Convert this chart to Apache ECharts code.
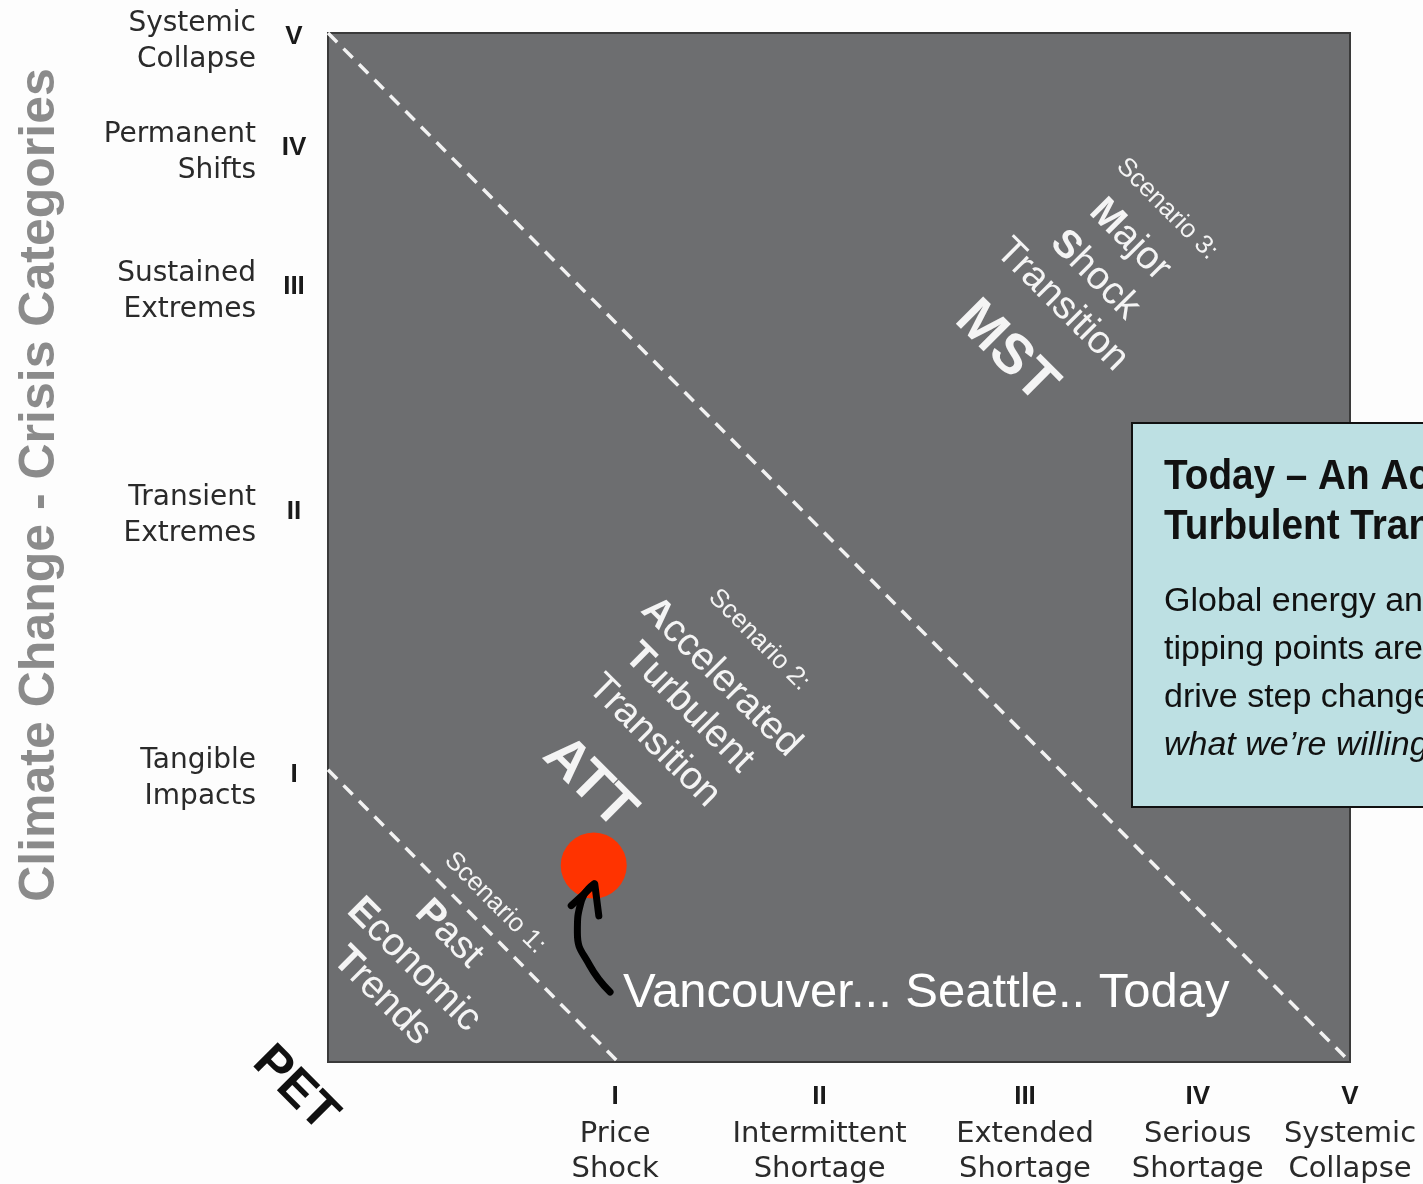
<!DOCTYPE html>
<html>
<head>
<meta charset="utf-8">
<title>Climate Change - Crisis Categories vs PET</title>
<script src="https://cdn.jsdelivr.net/npm/echarts@6/dist/echarts.min.js"></script>
<style>
  html, body { margin: 0; padding: 0; background: #fdfdfd; }
  #chart { width: 1423px; height: 1184px; }
</style>
</head>
<body>
<div id="chart"></div>
<script>
// tick positions, 0..100 along each side of the box
var petTicks = [28.1, 48.1, 68.2, 85.1, 100];
var petRoman = ['I', 'II', 'III', 'IV', 'V'];
var petNames = ['Price\nShock', 'Intermittent\nShortage', 'Extended\nShortage', 'Serious\nShortage', 'Systemic\nCollapse'];

var climateTicks = [27.9, 53.5, 75.3, 88.8, 99.6];
var climateRoman = ['I', 'II', 'III', 'IV', 'V'];
var climateNames = ['Tangible\nImpacts', 'Transient\nExtremes', 'Sustained\nExtremes', 'Permanent\nShifts', 'Systemic\nCollapse'];

// scenario borders (dashed)
var mainDiagonal = [[0, 100], [100, 0]];
var pastDiagonal = [[0, 28.4], [28.4, 0]];

// today + the arrow pointing at it
var todayPoint = [[26.0, 19.1]];
var arrowCurve = [[27.6, 6.8], [25.6, 9.4], [24.4, 12.6], [24.8, 15.7], [26.0, 17.3]];
var arrowHead = [[23.8, 15.2], [26.1, 17.3], [26.5, 14.2]];

var scenario1 = ['Scenario 1:', 'Past', 'Economic', 'Trends'];
var scenario2 = ['Scenario 2:', 'Accelerated', 'Turbulent', 'Transition', 'ATT'];
var scenario3 = ['Scenario 3:', 'Major', 'Shock', 'Transition', 'MST'];
var todayNote = 'Vancouver... Seattle.. Today';
var boxTitle = ['Today \u2013 An Accelerated', 'Turbulent Transition'];
var boxBody = ['Global energy and climate', 'tipping points are converging to', 'drive step changes beyond'];
var boxLast = 'what we\u2019re willing to accept';

function pick(list, ticks, v) {
  var best = 0;
  for (var i = 1; i < ticks.length; i++) {
    if (Math.abs(ticks[i] - v) < Math.abs(ticks[best] - v)) best = i;
  }
  return list[best];
}

var FONT = 'Liberation Sans, Arial, sans-serif';

// one rotated line of the scenario labels
function tilt(x, y, str, size, boldHead, allBold) {
  var base = { fontSize: size, fontFamily: FONT, fill: '#f4f4f4', fontWeight: allBold ? 'bold' : 'normal' };
  var text = str, rich;
  if (boldHead) {
    text = '{h|' + str.charAt(0) + '}{t|' + str.slice(1) + '}';
    rich = { h: Object.assign({}, base, { fontWeight: 'bold' }), t: base };
  }
  return {
    type: 'text', x: x, y: y, rotation: -Math.PI / 4, z: 20,
    style: Object.assign({ text: text, rich: rich, align: 'center', verticalAlign: 'middle' }, base)
  };
}

var graphics = [];
// scenario 3
var s3pos = [[1167, 209], [1130, 240], [1095, 275], [1062, 305], [1006, 352]];
scenario3.forEach(function (s, i) {
  var size = i === 0 ? 26 : (i === 4 ? 56 : 39);
  graphics.push(tilt(s3pos[i][0], s3pos[i][1], s, size, i === 1 || i === 2, i === 4));
});
// scenario 2
var s2pos = [[759, 640], [721, 677], [689, 708], [654, 741], [589, 783]];
scenario2.forEach(function (s, i) {
  var size = i === 0 ? 26 : (i === 4 ? 56 : 39);
  graphics.push(tilt(s2pos[i][0], s2pos[i][1], s, size, i === 1 || i === 2, i === 4));
});
// scenario 1
var s1pos = [[495, 903], [449, 934], [414, 965], [382, 996]];
scenario1.forEach(function (s, i) {
  var size = i === 0 ? 26 : 39;
  graphics.push(tilt(s1pos[i][0], s1pos[i][1], s, size, i > 0, false));
});

// axis titles
graphics.push({
  type: 'text', x: 40, y: 485, rotation: Math.PI / 2, z: 20,
  style: { text: 'Climate Change - Crisis Categories', fontSize: 50, fontWeight: 'bold', fontFamily: FONT,
           fill: '#8b8b8b', align: 'center', verticalAlign: 'middle' }
});
graphics.push({
  type: 'text', x: 295, y: 1089, rotation: -Math.PI / 4, z: 20,
  style: { text: 'PET', fontSize: 50, fontWeight: 'bold', fontFamily: FONT,
           fill: '#111', align: 'center', verticalAlign: 'middle' }
});

// note next to the arrow
graphics.push({
  type: 'text', x: 623, y: 993, z: 20,
  style: { text: todayNote, fontSize: 49, fontFamily: FONT, fill: '#ffffff', align: 'left', verticalAlign: 'middle' }
});

// the callout box on the right
graphics.push({
  type: 'rect', z: 30,
  shape: { x: 1132, y: 423, width: 330, height: 384 },
  style: { fill: '#bde0e3', stroke: '#111', lineWidth: 2 }
});
boxTitle.forEach(function (s, i) {
  graphics.push({
    type: 'text', x: 1164, y: 477 + i * 50, z: 31, scaleX: 0.9,
    style: { text: s, fontSize: 43, fontWeight: 'bold', fontFamily: FONT,
             fill: '#111', align: 'left', verticalAlign: 'middle' }
  });
});
boxBody.forEach(function (s, i) {
  graphics.push({
    type: 'text', x: 1164, y: 602 + i * 48, z: 31,
    style: { text: s, fontSize: 34, fontFamily: FONT, fill: '#111', align: 'left', verticalAlign: 'middle' }
  });
});
graphics.push({
  type: 'text', x: 1164, y: 746, z: 31,
  style: { text: boxLast, fontSize: 34, fontStyle: 'italic', fontFamily: FONT, fill: '#111', align: 'left', verticalAlign: 'middle' }
});

var chart = echarts.init(document.getElementById('chart'));

var hidden = { axisLine: { show: false }, axisTick: { show: false }, splitLine: { show: false } };

var option = {
  backgroundColor: '#fdfdfd',
  animation: false,
  grid: {
    left: 328, top: 33, width: 1022, height: 1029,
    show: true, backgroundColor: '#6d6e70', borderColor: '#3a3a3a', borderWidth: 2,
    outerBoundsMode: 'none'
  },
  xAxis: Object.assign({
    type: 'value', min: 0, max: 100,
    axisLabel: {
      customValues: petTicks, showMinLabel: true, showMaxLabel: true, margin: 15,
      formatter: function (v) {
        var n = pick(petNames, petTicks, v).split('\n');
        return '{r|' + pick(petRoman, petTicks, v) + '}\n{n|' + n[0] + '}\n{n|' + n[1] + '}';
      },
      rich: {
        r: { fontSize: 26, fontWeight: 'bold', fontFamily: FONT, color: '#1a1a1a', lineHeight: 40 },
        n: { fontSize: 29, fontFamily: 'DejaVu Sans', color: '#2a2a2a', lineHeight: 35 }
      }
    }
  }, hidden),
  yAxis: [
    Object.assign({
      type: 'value', min: 0, max: 100,
      axisLabel: {
        customValues: climateTicks, showMinLabel: true, showMaxLabel: true, margin: 34, align: 'center',
        formatter: function (v) { return pick(climateRoman, climateTicks, v); },
        fontSize: 26, fontWeight: 'bold', fontFamily: FONT, color: '#1a1a1a'
      }
    }, hidden),
    // names sit a few px lower than the numerals, so this axis is nudged
    Object.assign({
      type: 'value', min: 0.4, max: 100.4, position: 'left',
      axisLabel: {
        customValues: climateTicks, showMinLabel: true, showMaxLabel: true, margin: 72, align: 'right',
        formatter: function (v) { return pick(climateNames, climateTicks, v); },
        fontSize: 28, lineHeight: 36, fontFamily: 'DejaVu Sans', color: '#2a2a2a'
      }
    }, hidden)
  ],
  graphic: { elements: graphics },
  series: [
    {
      type: 'line', data: mainDiagonal, symbol: 'none', z: 3,
      lineStyle: { color: '#f2f2f2', width: 3.5, type: [13, 9] }
    },
    {
      type: 'line', data: pastDiagonal, symbol: 'none', z: 3,
      lineStyle: { color: '#f2f2f2', width: 3.5, type: [13, 9] }
    },
    {
      type: 'scatter', data: todayPoint, symbolSize: 66, z: 4,
      itemStyle: { color: '#ff3300', opacity: 1 }
    },
    {
      type: 'line', data: arrowCurve, symbol: 'none', smooth: 0.5, z: 5,
      lineStyle: { color: '#000', width: 7, cap: 'round' }
    },
    {
      type: 'line', data: arrowHead, symbol: 'none', z: 5,
      lineStyle: { color: '#000', width: 7, cap: 'round', join: 'round' }
    }
  ]
};

chart.setOption(option);
</script>
</body>
</html>
